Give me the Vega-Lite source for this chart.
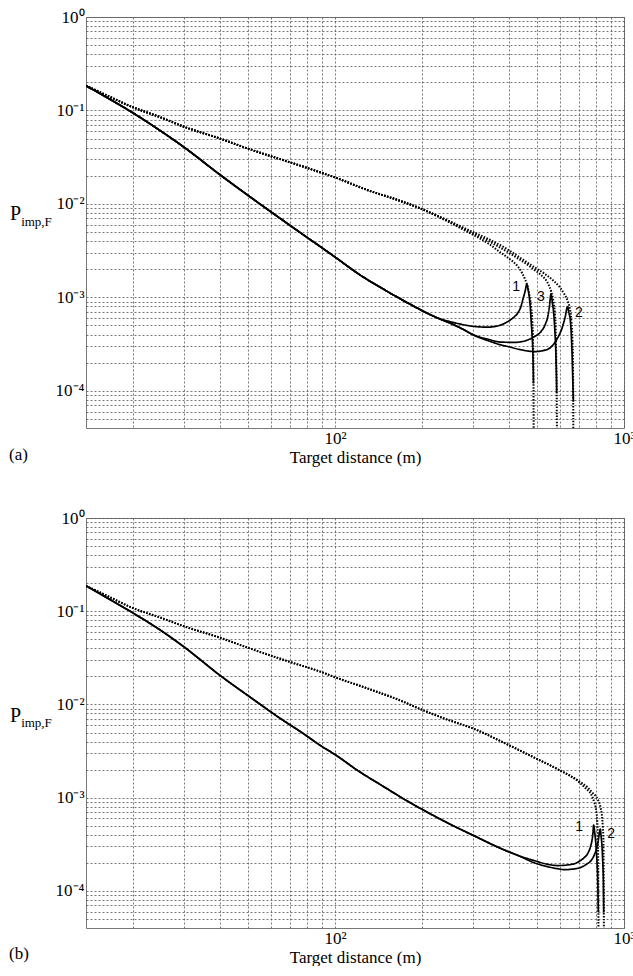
{
"$schema": "https://vega.github.io/schema/vega-lite/v6.json",
"background": "white",
"padding": {"left": 8, "top": 7, "right": 0, "bottom": 0},
"spacing": 42,
"config": {
 "font": "Liberation Serif",
 "view": {"stroke": "#777", "strokeWidth": 1},
 "axis": {"labelFont": "Liberation Serif", "labelFontSize": 17, "labelColor": "black", "titleFont": "Liberation Serif", "titleFontSize": 17, "titleFontWeight": "normal", "titleColor": "black", "gridColor": "#555", "gridDash": [2, 2], "gridWidth": 0.8, "gridOpacity": 1, "domain": false, "ticks": false, "labelPadding": 2, "titlePadding": 3, "labelOverlap": false, "labelFlush": false}
},
"datasets": {
 "a": [
  {"x":13.75,"y":0.184,"s":"s1","k":"solid"},{"x":16,"y":0.141,"s":"s1","k":"solid"},{"x":20,"y":0.094,"s":"s1","k":"solid"},{"x":25,"y":0.06,"s":"s1","k":"solid"},{"x":30,"y":0.0405,"s":"s1","k":"solid"},{"x":40,"y":0.0205,"s":"s1","k":"solid"},{"x":52,"y":0.0113,"s":"s1","k":"solid"},{"x":65,"y":0.0069,"s":"s1","k":"solid"},{"x":76,"y":0.0049,"s":"s1","k":"solid"},{"x":90,"y":0.0034,"s":"s1","k":"solid"},{"x":100,"y":0.0027,"s":"s1","k":"solid"},{"x":120,"y":0.0018,"s":"s1","k":"solid"},{"x":150,"y":0.00118,"s":"s1","k":"solid"},{"x":180,"y":0.00086,"s":"s1","k":"solid"},{"x":210,"y":0.00067,"s":"s1","k":"solid"},{"x":230,"y":0.00059,"s":"s1","k":"solid"},
  {"x":250,"y":0.00055,"s":"s1","k":"solid"},{"x":266,"y":0.000525,"s":"s1","k":"solid"},{"x":300,"y":0.00049,"s":"s1","k":"solid"},{"x":337,"y":0.00048,"s":"s1","k":"solid"},{"x":370,"y":0.0005,"s":"s1","k":"solid"},{"x":396,"y":0.00055,"s":"s1","k":"solid"},{"x":415,"y":0.00061,"s":"s1","k":"solid"},{"x":429,"y":0.00068,"s":"s1","k":"solid"},{"x":440,"y":0.0008,"s":"s1","k":"solid"},{"x":448,"y":0.00098,"s":"s1","k":"solid"},{"x":455,"y":0.00117,"s":"s1","k":"solid"},{"x":461,"y":0.00138,"s":"s1","k":"solid"},{"x":466,"y":0.0012,"s":"s1","k":"solid"},{"x":470,"y":0.00102,"s":"s1","k":"solid"},{"x":474,"y":0.00078,"s":"s1","k":"solid"},{"x":477,"y":0.00057,"s":"s1","k":"solid"},{"x":480,"y":0.00043,"s":"s1","k":"solid"},{"x":483,"y":0.000298,"s":"s1","k":"solid"},{"x":485,"y":0.00019,"s":"s1","k":"solid"},{"x":486,"y":0.00012,"s":"s1","k":"solid"},

  {"x":13.75,"y":0.184,"s":"s3","k":"solid"},{"x":16,"y":0.141,"s":"s3","k":"solid"},{"x":20,"y":0.094,"s":"s3","k":"solid"},{"x":25,"y":0.06,"s":"s3","k":"solid"},{"x":30,"y":0.0405,"s":"s3","k":"solid"},{"x":40,"y":0.0205,"s":"s3","k":"solid"},{"x":52,"y":0.0113,"s":"s3","k":"solid"},{"x":65,"y":0.0069,"s":"s3","k":"solid"},{"x":76,"y":0.0049,"s":"s3","k":"solid"},{"x":90,"y":0.0034,"s":"s3","k":"solid"},{"x":100,"y":0.0027,"s":"s3","k":"solid"},{"x":120,"y":0.0018,"s":"s3","k":"solid"},{"x":150,"y":0.00118,"s":"s3","k":"solid"},{"x":180,"y":0.00086,"s":"s3","k":"solid"},{"x":210,"y":0.00067,"s":"s3","k":"solid"},{"x":230,"y":0.00059,"s":"s3","k":"solid"},
  {"x":250,"y":0.00053,"s":"s3","k":"solid"},{"x":270,"y":0.000475,"s":"s3","k":"solid"},{"x":303,"y":0.000395,"s":"s3","k":"solid"},{"x":340,"y":0.000355,"s":"s3","k":"solid"},{"x":375,"y":0.000332,"s":"s3","k":"solid"},{"x":420,"y":0.00033,"s":"s3","k":"solid"},{"x":464,"y":0.00035,"s":"s3","k":"solid"},{"x":490,"y":0.00038,"s":"s3","k":"solid"},{"x":516,"y":0.00043,"s":"s3","k":"solid"},{"x":535,"y":0.00052,"s":"s3","k":"solid"},{"x":545,"y":0.000624,"s":"s3","k":"solid"},{"x":552,"y":0.0008,"s":"s3","k":"solid"},{"x":559,"y":0.00109,"s":"s3","k":"solid"},{"x":565,"y":0.00088,"s":"s3","k":"solid"},{"x":571,"y":0.00068,"s":"s3","k":"solid"},{"x":576,"y":0.00046,"s":"s3","k":"solid"},{"x":580,"y":0.000298,"s":"s3","k":"solid"},{"x":583,"y":0.00017,"s":"s3","k":"solid"},{"x":585,"y":0.000094,"s":"s3","k":"solid"},

  {"x":13.75,"y":0.184,"s":"s2","k":"solid"},{"x":16,"y":0.141,"s":"s2","k":"solid"},{"x":20,"y":0.094,"s":"s2","k":"solid"},{"x":25,"y":0.06,"s":"s2","k":"solid"},{"x":30,"y":0.0405,"s":"s2","k":"solid"},{"x":40,"y":0.0205,"s":"s2","k":"solid"},{"x":52,"y":0.0113,"s":"s2","k":"solid"},{"x":65,"y":0.0069,"s":"s2","k":"solid"},{"x":76,"y":0.0049,"s":"s2","k":"solid"},{"x":90,"y":0.0034,"s":"s2","k":"solid"},{"x":100,"y":0.0027,"s":"s2","k":"solid"},{"x":120,"y":0.0018,"s":"s2","k":"solid"},{"x":150,"y":0.00118,"s":"s2","k":"solid"},{"x":180,"y":0.00086,"s":"s2","k":"solid"},{"x":210,"y":0.00067,"s":"s2","k":"solid"},{"x":230,"y":0.00059,"s":"s2","k":"solid"},
  {"x":250,"y":0.00053,"s":"s2","k":"solid"},{"x":270,"y":0.000475,"s":"s2","k":"solid"},{"x":303,"y":0.000392,"s":"s2","k":"solid"},{"x":340,"y":0.000342,"s":"s2","k":"solid"},{"x":375,"y":0.00031,"s":"s2","k":"solid"},{"x":396,"y":0.000298,"s":"s2","k":"solid"},{"x":440,"y":0.000275,"s":"s2","k":"solid"},{"x":490,"y":0.000263,"s":"s2","k":"solid"},{"x":540,"y":0.000275,"s":"s2","k":"solid"},{"x":574,"y":0.000323,"s":"s2","k":"solid"},{"x":595,"y":0.00039,"s":"s2","k":"solid"},{"x":613,"y":0.000487,"s":"s2","k":"solid"},{"x":626,"y":0.00062,"s":"s2","k":"solid"},{"x":638,"y":0.000797,"s":"s2","k":"solid"},{"x":645,"y":0.00068,"s":"s2","k":"solid"},{"x":652,"y":0.00057,"s":"s2","k":"solid"},{"x":657,"y":0.0004,"s":"s2","k":"solid"},{"x":661,"y":0.000253,"s":"s2","k":"solid"},{"x":665,"y":0.00013,"s":"s2","k":"solid"},{"x":668,"y":0.000077,"s":"s2","k":"solid"},

  {"x":13.75,"y":0.184,"s":"d1","k":"dotted"},{"x":16,"y":0.148,"s":"d1","k":"dotted"},{"x":20,"y":0.108,"s":"d1","k":"dotted"},{"x":25,"y":0.084,"s":"d1","k":"dotted"},{"x":30,"y":0.067,"s":"d1","k":"dotted"},{"x":40,"y":0.05,"s":"d1","k":"dotted"},{"x":50,"y":0.039,"s":"d1","k":"dotted"},{"x":70,"y":0.0278,"s":"d1","k":"dotted"},{"x":90,"y":0.0215,"s":"d1","k":"dotted"},{"x":100,"y":0.0192,"s":"d1","k":"dotted"},{"x":130,"y":0.014,"s":"d1","k":"dotted"},{"x":165,"y":0.011,"s":"d1","k":"dotted"},{"x":200,"y":0.0088,"s":"d1","k":"dotted"},
  {"x":250,"y":0.0063,"s":"d1","k":"dotted"},{"x":288,"y":0.005,"s":"d1","k":"dotted"},{"x":340,"y":0.00375,"s":"d1","k":"dotted"},{"x":375,"y":0.003,"s":"d1","k":"dotted"},{"x":400,"y":0.0026,"s":"d1","k":"dotted"},{"x":429,"y":0.00214,"s":"d1","k":"dotted"},{"x":445,"y":0.0018,"s":"d1","k":"dotted"},{"x":455,"y":0.00155,"s":"d1","k":"dotted"},{"x":464,"y":0.0013,"s":"d1","k":"dotted"},{"x":472,"y":0.001,"s":"d1","k":"dotted"},{"x":478,"y":0.00075,"s":"d1","k":"dotted"},{"x":482,"y":0.00055,"s":"d1","k":"dotted"},{"x":484.5,"y":0.00035,"s":"d1","k":"dotted"},{"x":486,"y":0.00015,"s":"d1","k":"dotted"},{"x":487,"y":0.00003,"s":"d1","k":"dotted"},

  {"x":13.75,"y":0.184,"s":"d3","k":"dotted"},{"x":16,"y":0.148,"s":"d3","k":"dotted"},{"x":20,"y":0.108,"s":"d3","k":"dotted"},{"x":25,"y":0.084,"s":"d3","k":"dotted"},{"x":30,"y":0.067,"s":"d3","k":"dotted"},{"x":40,"y":0.05,"s":"d3","k":"dotted"},{"x":50,"y":0.039,"s":"d3","k":"dotted"},{"x":70,"y":0.0278,"s":"d3","k":"dotted"},{"x":90,"y":0.0215,"s":"d3","k":"dotted"},{"x":100,"y":0.0192,"s":"d3","k":"dotted"},{"x":130,"y":0.014,"s":"d3","k":"dotted"},{"x":165,"y":0.011,"s":"d3","k":"dotted"},{"x":200,"y":0.0088,"s":"d3","k":"dotted"},
  {"x":250,"y":0.0064,"s":"d3","k":"dotted"},{"x":288,"y":0.00515,"s":"d3","k":"dotted"},{"x":340,"y":0.004,"s":"d3","k":"dotted"},{"x":418,"y":0.00275,"s":"d3","k":"dotted"},{"x":460,"y":0.00227,"s":"d3","k":"dotted"},{"x":490,"y":0.00197,"s":"d3","k":"dotted"},{"x":520,"y":0.0017,"s":"d3","k":"dotted"},{"x":545,"y":0.00142,"s":"d3","k":"dotted"},{"x":560,"y":0.00115,"s":"d3","k":"dotted"},{"x":570,"y":0.0009,"s":"d3","k":"dotted"},{"x":577,"y":0.00065,"s":"d3","k":"dotted"},{"x":581,"y":0.0004,"s":"d3","k":"dotted"},{"x":583,"y":0.0002,"s":"d3","k":"dotted"},{"x":585,"y":0.0001,"s":"d3","k":"dotted"},{"x":586,"y":0.00003,"s":"d3","k":"dotted"},

  {"x":13.75,"y":0.184,"s":"d2","k":"dotted"},{"x":16,"y":0.148,"s":"d2","k":"dotted"},{"x":20,"y":0.108,"s":"d2","k":"dotted"},{"x":25,"y":0.084,"s":"d2","k":"dotted"},{"x":30,"y":0.067,"s":"d2","k":"dotted"},{"x":40,"y":0.05,"s":"d2","k":"dotted"},{"x":50,"y":0.039,"s":"d2","k":"dotted"},{"x":70,"y":0.0278,"s":"d2","k":"dotted"},{"x":90,"y":0.0215,"s":"d2","k":"dotted"},{"x":100,"y":0.0192,"s":"d2","k":"dotted"},{"x":130,"y":0.014,"s":"d2","k":"dotted"},{"x":165,"y":0.011,"s":"d2","k":"dotted"},{"x":200,"y":0.0088,"s":"d2","k":"dotted"},
  {"x":250,"y":0.0065,"s":"d2","k":"dotted"},{"x":288,"y":0.0053,"s":"d2","k":"dotted"},{"x":340,"y":0.0042,"s":"d2","k":"dotted"},{"x":396,"y":0.00325,"s":"d2","k":"dotted"},{"x":450,"y":0.0025,"s":"d2","k":"dotted"},{"x":490,"y":0.0021,"s":"d2","k":"dotted"},{"x":530,"y":0.0018,"s":"d2","k":"dotted"},{"x":574,"y":0.00148,"s":"d2","k":"dotted"},{"x":600,"y":0.00128,"s":"d2","k":"dotted"},{"x":620,"y":0.0011,"s":"d2","k":"dotted"},{"x":638,"y":0.00092,"s":"d2","k":"dotted"},{"x":650,"y":0.00075,"s":"d2","k":"dotted"},{"x":658,"y":0.00055,"s":"d2","k":"dotted"},{"x":663,"y":0.00035,"s":"d2","k":"dotted"},{"x":666,"y":0.0002,"s":"d2","k":"dotted"},{"x":667,"y":0.0001,"s":"d2","k":"dotted"},{"x":668,"y":0.00003,"s":"d2","k":"dotted"}
 ],
 "b": [
  {"x":13.75,"y":0.187,"s":"s1","k":"solid"},{"x":16,"y":0.143,"s":"s1","k":"solid"},{"x":20,"y":0.0957,"s":"s1","k":"solid"},{"x":25,"y":0.062,"s":"s1","k":"solid"},{"x":30,"y":0.0415,"s":"s1","k":"solid"},{"x":40,"y":0.0205,"s":"s1","k":"solid"},{"x":52,"y":0.0114,"s":"s1","k":"solid"},{"x":65,"y":0.007,"s":"s1","k":"solid"},{"x":76,"y":0.0051,"s":"s1","k":"solid"},{"x":90,"y":0.00355,"s":"s1","k":"solid"},{"x":100,"y":0.0029,"s":"s1","k":"solid"},{"x":120,"y":0.00195,"s":"s1","k":"solid"},{"x":150,"y":0.00127,"s":"s1","k":"solid"},{"x":170,"y":0.001,"s":"s1","k":"solid"},{"x":200,"y":0.00075,"s":"s1","k":"solid"},{"x":250,"y":0.00052,"s":"s1","k":"solid"},{"x":303,"y":0.00039,"s":"s1","k":"solid"},{"x":375,"y":0.000285,"s":"s1","k":"solid"},{"x":430,"y":0.00024,"s":"s1","k":"solid"},
  {"x":490,"y":0.000211,"s":"s1","k":"solid"},{"x":540,"y":0.000194,"s":"s1","k":"solid"},{"x":589,"y":0.000187,"s":"s1","k":"solid"},{"x":640,"y":0.00019,"s":"s1","k":"solid"},{"x":692,"y":0.000203,"s":"s1","k":"solid"},{"x":725,"y":0.000225,"s":"s1","k":"solid"},{"x":748,"y":0.00025,"s":"s1","k":"solid"},{"x":765,"y":0.000295,"s":"s1","k":"solid"},{"x":775,"y":0.00035,"s":"s1","k":"solid"},{"x":781,"y":0.00042,"s":"s1","k":"solid"},{"x":785,"y":0.000508,"s":"s1","k":"solid"},{"x":792,"y":0.00042,"s":"s1","k":"solid"},{"x":800,"y":0.000305,"s":"s1","k":"solid"},{"x":806,"y":0.00021,"s":"s1","k":"solid"},{"x":811,"y":0.000134,"s":"s1","k":"solid"},{"x":815,"y":0.000059,"s":"s1","k":"solid"},

  {"x":13.75,"y":0.187,"s":"s2","k":"solid"},{"x":16,"y":0.143,"s":"s2","k":"solid"},{"x":20,"y":0.0957,"s":"s2","k":"solid"},{"x":25,"y":0.062,"s":"s2","k":"solid"},{"x":30,"y":0.0415,"s":"s2","k":"solid"},{"x":40,"y":0.0205,"s":"s2","k":"solid"},{"x":52,"y":0.0114,"s":"s2","k":"solid"},{"x":65,"y":0.007,"s":"s2","k":"solid"},{"x":76,"y":0.0051,"s":"s2","k":"solid"},{"x":90,"y":0.00355,"s":"s2","k":"solid"},{"x":100,"y":0.0029,"s":"s2","k":"solid"},{"x":120,"y":0.00195,"s":"s2","k":"solid"},{"x":150,"y":0.00127,"s":"s2","k":"solid"},{"x":170,"y":0.001,"s":"s2","k":"solid"},{"x":200,"y":0.00075,"s":"s2","k":"solid"},{"x":250,"y":0.00052,"s":"s2","k":"solid"},{"x":303,"y":0.00039,"s":"s2","k":"solid"},{"x":375,"y":0.000285,"s":"s2","k":"solid"},{"x":430,"y":0.00024,"s":"s2","k":"solid"},
  {"x":490,"y":0.0002,"s":"s2","k":"solid"},{"x":540,"y":0.000183,"s":"s2","k":"solid"},{"x":589,"y":0.000173,"s":"s2","k":"solid"},{"x":621,"y":0.000169,"s":"s2","k":"solid"},{"x":660,"y":0.000171,"s":"s2","k":"solid"},{"x":710,"y":0.000179,"s":"s2","k":"solid"},{"x":745,"y":0.000195,"s":"s2","k":"solid"},{"x":769,"y":0.000211,"s":"s2","k":"solid"},{"x":790,"y":0.000245,"s":"s2","k":"solid"},{"x":805,"y":0.00029,"s":"s2","k":"solid"},{"x":815,"y":0.00035,"s":"s2","k":"solid"},{"x":822,"y":0.00042,"s":"s2","k":"solid"},{"x":828,"y":0.00046,"s":"s2","k":"solid"},{"x":833,"y":0.00039,"s":"s2","k":"solid"},{"x":839,"y":0.000305,"s":"s2","k":"solid"},{"x":844,"y":0.00021,"s":"s2","k":"solid"},{"x":848,"y":0.000134,"s":"s2","k":"solid"},{"x":851,"y":0.000059,"s":"s2","k":"solid"},

  {"x":13.75,"y":0.187,"s":"d1","k":"dotted"},{"x":16,"y":0.15,"s":"d1","k":"dotted"},{"x":20,"y":0.108,"s":"d1","k":"dotted"},{"x":25,"y":0.085,"s":"d1","k":"dotted"},{"x":30,"y":0.069,"s":"d1","k":"dotted"},{"x":40,"y":0.052,"s":"d1","k":"dotted"},{"x":50,"y":0.0405,"s":"d1","k":"dotted"},{"x":70,"y":0.0285,"s":"d1","k":"dotted"},{"x":90,"y":0.0222,"s":"d1","k":"dotted"},{"x":100,"y":0.0196,"s":"d1","k":"dotted"},{"x":130,"y":0.0148,"s":"d1","k":"dotted"},{"x":165,"y":0.0113,"s":"d1","k":"dotted"},{"x":198.5,"y":0.00885,"s":"d1","k":"dotted"},{"x":238.5,"y":0.00708,"s":"d1","k":"dotted"},{"x":311.7,"y":0.00527,"s":"d1","k":"dotted"},{"x":375.4,"y":0.00402,"s":"d1","k":"dotted"},{"x":489.5,"y":0.00269,"s":"d1","k":"dotted"},{"x":589.6,"y":0.00202,"s":"d1","k":"dotted"},
  {"x":692,"y":0.00151,"s":"d1","k":"dotted"},{"x":740,"y":0.00124,"s":"d1","k":"dotted"},{"x":769,"y":0.00109,"s":"d1","k":"dotted"},{"x":790,"y":0.00088,"s":"d1","k":"dotted"},{"x":800,"y":0.00075,"s":"d1","k":"dotted"},{"x":808,"y":0.00055,"s":"d1","k":"dotted"},{"x":812,"y":0.00035,"s":"d1","k":"dotted"},{"x":814,"y":0.0002,"s":"d1","k":"dotted"},{"x":815,"y":0.0001,"s":"d1","k":"dotted"},{"x":816,"y":0.00003,"s":"d1","k":"dotted"},

  {"x":13.75,"y":0.187,"s":"d2","k":"dotted"},{"x":16,"y":0.15,"s":"d2","k":"dotted"},{"x":20,"y":0.108,"s":"d2","k":"dotted"},{"x":25,"y":0.085,"s":"d2","k":"dotted"},{"x":30,"y":0.069,"s":"d2","k":"dotted"},{"x":40,"y":0.052,"s":"d2","k":"dotted"},{"x":50,"y":0.0405,"s":"d2","k":"dotted"},{"x":70,"y":0.0285,"s":"d2","k":"dotted"},{"x":90,"y":0.0222,"s":"d2","k":"dotted"},{"x":100,"y":0.0196,"s":"d2","k":"dotted"},{"x":130,"y":0.0148,"s":"d2","k":"dotted"},{"x":165,"y":0.0113,"s":"d2","k":"dotted"},{"x":198.5,"y":0.00885,"s":"d2","k":"dotted"},{"x":238.5,"y":0.00708,"s":"d2","k":"dotted"},{"x":311.7,"y":0.00527,"s":"d2","k":"dotted"},{"x":375.4,"y":0.00402,"s":"d2","k":"dotted"},{"x":489.5,"y":0.00269,"s":"d2","k":"dotted"},{"x":589.6,"y":0.00202,"s":"d2","k":"dotted"},
  {"x":692,"y":0.00153,"s":"d2","k":"dotted"},{"x":748,"y":0.00129,"s":"d2","k":"dotted"},{"x":780,"y":0.00112,"s":"d2","k":"dotted"},{"x":811,"y":0.00096,"s":"d2","k":"dotted"},{"x":830,"y":0.00078,"s":"d2","k":"dotted"},{"x":839,"y":0.00064,"s":"d2","k":"dotted"},{"x":845,"y":0.00048,"s":"d2","k":"dotted"},{"x":848,"y":0.00039,"s":"d2","k":"dotted"},{"x":850,"y":0.0002,"s":"d2","k":"dotted"},{"x":851,"y":0.0001,"s":"d2","k":"dotted"},{"x":852,"y":0.00003,"s":"d2","k":"dotted"}
 ],
 "labels": [
  {"panel":"a","x":423,"y":0.0013,"t":"1"},{"panel":"a","x":516,"y":0.001,"t":"3"},{"panel":"a","x":698,"y":0.00068,"t":"2"},
  {"panel":"b","x":700,"y":0.00048,"t":"1"},{"panel":"b","x":902,"y":0.000407,"t":"2"}
 ],
 "margin": [
  {"panel":"a","part":"P","x":7.5,"y":0.0078,"t":"P"},{"panel":"a","part":"sub","x":8.2,"y":0.0064,"t":"imp,F"},{"panel":"a","part":"tag","x":7.45,"y":0.0000207,"t":"(a)"},
  {"panel":"b","part":"P","x":7.5,"y":0.0076,"t":"P"},{"panel":"b","part":"sub","x":8.2,"y":0.00626,"t":"imp,F"},{"panel":"b","part":"tag","x":7.45,"y":0.0000212,"t":"(b)"}
 ]
},
"vconcat": [
 {
  "width": 538, "height": 411,
  "layer": [
   {"data": {"name": "a"},
    "mark": {"type": "line", "clip": true, "interpolate": "monotone", "color": "black"},
    "encoding": {
     "x": {"field": "x", "type": "quantitative", "scale": {"type": "log", "domain": [13.75, 1000], "nice": false},
       "axis": {"title": "Target distance (m)", "titleFont": "Liberation Serif", "labelFont": "Liberation Serif", "grid": true, "values": [20,30,40,50,60,70,80,90,100,200,300,400,500,600,700,800,900,1000], "labelExpr": "datum.value == 100 ? '10²' : datum.value == 1000 ? '10³' : ''"}},
     "y": {"field": "y", "type": "quantitative", "scale": {"type": "log", "domain": [0.00004, 1], "nice": false},
       "axis": {"title": null, "labelFont": "Liberation Serif", "grid": true, "values": [0.00005,0.00006,0.00007,0.00008,0.00009,0.0001,0.0002,0.0003,0.0004,0.0005,0.0006,0.0007,0.0008,0.0009,0.001,0.002,0.003,0.004,0.005,0.006,0.007,0.008,0.009,0.01,0.02,0.03,0.04,0.05,0.06,0.07,0.08,0.09,0.1,0.2,0.3,0.4,0.5,0.6,0.7,0.8,0.9,1], "labelExpr": "datum.value == 1 ? '10⁰' : datum.value == 0.1 ? '10⁻¹' : datum.value == 0.01 ? '10⁻²' : datum.value == 0.001 ? '10⁻³' : datum.value == 0.0001 ? '10⁻⁴' : ''"}},
     "detail": {"field": "s"},
     "strokeDash": {"field": "k", "type": "nominal", "scale": {"domain": ["solid", "dotted"], "range": [[1, 0], [1.5, 1.5]]}, "legend": null},
     "strokeWidth": {"field": "k", "type": "nominal", "scale": {"domain": ["solid", "dotted"], "range": [1.7, 2]}, "legend": null}
    }},
   {"data": {"name": "labels"}, "transform": [{"filter": "datum.panel == 'a'"}],
    "mark": {"type": "text", "font": "Liberation Sans", "fontSize": 14, "color": "black"},
    "encoding": {"x": {"field": "x", "type": "quantitative"}, "y": {"field": "y", "type": "quantitative"}, "text": {"field": "t"}}},
   {"data": {"name": "margin"}, "transform": [{"filter": "datum.panel == 'a' && datum.part == 'P'"}],
    "mark": {"type": "text", "font": "Liberation Serif", "fontSize": 20, "align": "left", "baseline": "middle", "color": "black"},
    "encoding": {"x": {"field": "x", "type": "quantitative"}, "y": {"field": "y", "type": "quantitative"}, "text": {"field": "t"}}},
   {"data": {"name": "margin"}, "transform": [{"filter": "datum.panel == 'a' && datum.part == 'sub'"}],
    "mark": {"type": "text", "font": "Liberation Serif", "fontSize": 13, "align": "left", "baseline": "middle", "color": "black"},
    "encoding": {"x": {"field": "x", "type": "quantitative"}, "y": {"field": "y", "type": "quantitative"}, "text": {"field": "t"}}},
   {"data": {"name": "margin"}, "transform": [{"filter": "datum.panel == 'a' && datum.part == 'tag'"}],
    "mark": {"type": "text", "font": "Liberation Serif", "fontSize": 17, "align": "left", "baseline": "middle", "color": "black"},
    "encoding": {"x": {"field": "x", "type": "quantitative"}, "y": {"field": "y", "type": "quantitative"}, "text": {"field": "t"}}}
  ]
 },
 {
  "width": 538, "height": 410,
  "layer": [
   {"data": {"name": "b"},
    "mark": {"type": "line", "clip": true, "interpolate": "monotone", "color": "black"},
    "encoding": {
     "x": {"field": "x", "type": "quantitative", "scale": {"type": "log", "domain": [13.75, 1000], "nice": false},
       "axis": {"title": "Target distance (m)", "titleFont": "Liberation Serif", "labelFont": "Liberation Serif", "grid": true, "values": [20,30,40,50,60,70,80,90,100,200,300,400,500,600,700,800,900,1000], "labelExpr": "datum.value == 100 ? '10²' : datum.value == 1000 ? '10³' : ''"}},
     "y": {"field": "y", "type": "quantitative", "scale": {"type": "log", "domain": [0.00004, 1], "nice": false},
       "axis": {"title": null, "labelFont": "Liberation Serif", "grid": true, "values": [0.00005,0.00006,0.00007,0.00008,0.00009,0.0001,0.0002,0.0003,0.0004,0.0005,0.0006,0.0007,0.0008,0.0009,0.001,0.002,0.003,0.004,0.005,0.006,0.007,0.008,0.009,0.01,0.02,0.03,0.04,0.05,0.06,0.07,0.08,0.09,0.1,0.2,0.3,0.4,0.5,0.6,0.7,0.8,0.9,1], "labelExpr": "datum.value == 1 ? '10⁰' : datum.value == 0.1 ? '10⁻¹' : datum.value == 0.01 ? '10⁻²' : datum.value == 0.001 ? '10⁻³' : datum.value == 0.0001 ? '10⁻⁴' : ''"}},
     "detail": {"field": "s"},
     "strokeDash": {"field": "k", "type": "nominal", "scale": {"domain": ["solid", "dotted"], "range": [[1, 0], [1.5, 1.5]]}, "legend": null},
     "strokeWidth": {"field": "k", "type": "nominal", "scale": {"domain": ["solid", "dotted"], "range": [1.7, 2]}, "legend": null}
    }},
   {"data": {"name": "labels"}, "transform": [{"filter": "datum.panel == 'b'"}],
    "mark": {"type": "text", "font": "Liberation Sans", "fontSize": 14, "color": "black"},
    "encoding": {"x": {"field": "x", "type": "quantitative"}, "y": {"field": "y", "type": "quantitative"}, "text": {"field": "t"}}},
   {"data": {"name": "margin"}, "transform": [{"filter": "datum.panel == 'b' && datum.part == 'P'"}],
    "mark": {"type": "text", "font": "Liberation Serif", "fontSize": 20, "align": "left", "baseline": "middle", "color": "black"},
    "encoding": {"x": {"field": "x", "type": "quantitative"}, "y": {"field": "y", "type": "quantitative"}, "text": {"field": "t"}}},
   {"data": {"name": "margin"}, "transform": [{"filter": "datum.panel == 'b' && datum.part == 'sub'"}],
    "mark": {"type": "text", "font": "Liberation Serif", "fontSize": 13, "align": "left", "baseline": "middle", "color": "black"},
    "encoding": {"x": {"field": "x", "type": "quantitative"}, "y": {"field": "y", "type": "quantitative"}, "text": {"field": "t"}}},
   {"data": {"name": "margin"}, "transform": [{"filter": "datum.panel == 'b' && datum.part == 'tag'"}],
    "mark": {"type": "text", "font": "Liberation Serif", "fontSize": 17, "align": "left", "baseline": "middle", "color": "black"},
    "encoding": {"x": {"field": "x", "type": "quantitative"}, "y": {"field": "y", "type": "quantitative"}, "text": {"field": "t"}}}
  ]
 }
]
}
